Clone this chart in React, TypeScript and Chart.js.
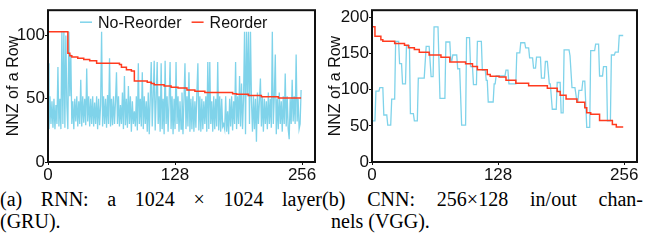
import React, { useEffect, useRef } from 'react';
import { Chart, registerables } from 'chart.js';

Chart.register(...registerables);

// ---------- data ----------
const xTickValues = [0, 128, 256];
const rnnYTicks = [0, 50, 100];
const vggYTicks = [0, 50, 100, 150, 200];
const seriesNames = ['No-Reorder', 'Reorder'];

// (a) RNN, no reorder: NNZ of each of 256 rows
const rnnNoReorder = [
  78, 26, 52, 30, 48, 27, 50, 26, 45, 30, 75, 28, 50, 26, 103, 30,
  103, 27, 100, 45, 26, 103, 52, 85, 30, 48, 26, 50, 32, 52, 28, 48,
  30, 65, 28, 52, 31, 50, 29, 74, 32, 52, 28, 50, 30, 52, 28, 47,
  30, 52, 26, 50, 29, 45, 103, 28, 52, 30, 50, 27, 53, 30, 82, 28,
  50, 29, 52, 30, 48, 71, 30, 52, 28, 45, 30, 55, 26, 68, 29, 50,
  27, 60, 30, 52, 24, 48, 30, 40, 28, 52, 25, 78, 30, 50, 28, 71,
  26, 52, 30, 48, 24, 55, 22, 50, 79, 28, 52, 80, 25, 50, 79, 30,
  52, 24, 78, 26, 50, 22, 80, 30, 52, 24, 48, 79, 26, 52, 22, 50,
  26, 79, 30, 52, 24, 48, 26, 55, 22, 50, 78, 26, 52, 28, 71, 24,
  50, 26, 52, 24, 48, 27, 55, 78, 25, 52, 24, 50, 26, 48, 30, 52,
  24, 79, 26, 79, 30, 48, 24, 52, 26, 50, 28, 79, 25, 52, 24, 50,
  28, 30, 26, 52, 24, 40, 22, 50, 28, 52, 25, 48, 30, 79, 26, 52,
  30, 68, 28, 62, 26, 50, 103, 22, 103, 52, 103, 30, 103, 48, 24, 52,
  26, 50, 16, 55, 30, 48, 66, 28, 52, 24, 50, 30, 48, 26, 55, 30,
  50, 27, 103, 30, 52, 85, 22, 50, 26, 55, 30, 48, 24, 52, 30, 70,
  28, 52, 26, 18, 50, 30, 65, 32, 52, 30, 85, 32, 50, 26, 30, 57,
];

// (a) RNN, reordered: step breakpoints (row index, NNZ)
const rnnReorderX = [0, 20, 22, 24, 30, 36, 42, 49, 72, 74, 79, 84, 87, 100, 104, 107, 117, 124, 131, 140, 148, 158, 186, 190, 202, 215, 232, 255];
const rnnReorderY = [103, 86, 84, 83, 82, 81, 80, 78, 77, 75, 73, 72, 64, 63, 62, 61, 60, 59, 58.5, 57, 56, 55, 54, 53.5, 52.5, 51.5, 50.5, 50.5];

// (b) CNN/VGG, no reorder: plateau start/end points
const vggNoReorderX = [
  0, 3, 4, 7, 8, 11, 12, 15, 16, 19, 20, 23, 24, 27, 28, 30, 31, 34, 35, 38,
  39, 42, 43, 46, 47, 53, 55, 58, 60, 62, 63, 67, 69, 74, 75, 79, 80, 81, 82, 86,
  87, 89, 91, 95, 96, 99, 100, 102, 103, 106, 107, 111, 112, 115, 116, 117, 118, 123, 124, 125,
  126, 135, 136, 138, 139, 146, 147, 150, 151, 155, 156, 159, 160, 163, 164, 166, 167, 171, 172, 175,
  176, 178, 180, 181, 183, 187, 188, 191, 192, 194, 195, 200, 201, 202, 203, 206, 208, 209, 210, 213,
  214, 216, 218, 221, 222, 226, 227, 230, 231, 234, 235, 238, 239, 242, 243, 246, 247, 250, 251, 255,
];
const vggNoReorderY = [
  57, 57, 98, 98, 103, 103, 65, 65, 51, 51, 87, 87, 167, 167, 136, 136, 108, 108, 161, 161,
  67, 67, 57, 57, 116, 116, 160, 160, 118, 118, 187, 187, 88, 88, 166, 166, 140, 140, 148, 148,
  129, 129, 51, 51, 172, 172, 132, 132, 107, 107, 167, 167, 127, 127, 113, 113, 83, 83, 108, 108,
  119, 119, 127, 127, 108, 108, 151, 151, 165, 165, 158, 158, 144, 144, 130, 130, 145, 145, 116, 116,
  139, 139, 108, 108, 73, 73, 110, 110, 68, 68, 155, 155, 147, 147, 103, 103, 84, 84, 99, 99,
  112, 112, 48, 48, 154, 154, 163, 163, 119, 119, 132, 132, 57, 57, 148, 148, 152, 152, 175, 175,
];

// (b) CNN/VGG, reordered: step breakpoints
const vggReorderX = [0, 3, 9, 11, 23, 33, 37, 43, 48, 58, 70, 79, 95, 102, 107, 117, 120, 129, 136, 146, 159, 178, 188, 191, 197, 208, 216, 218, 222, 231, 244, 248, 255];
const vggReorderY = [187, 174, 169, 167, 164, 161.5, 158, 155.5, 152, 148, 145, 138.5, 136, 132, 127.5, 121, 118.5, 117.5, 113, 109, 105.5, 102, 97.5, 92.5, 87, 82.5, 75, 68, 66, 57.5, 52, 48.5, 48.5];

// ---------- styles ----------
const CYAN = '#7fd3ea';
const RED = '#ff3b1f';
const SANS = '"Liberation Sans", Arial, sans-serif';
const SERIF = '"Liberation Serif", "Times New Roman", serif';

const boxPlugin = {
  id: 'plotBox',
  afterDraw(chart: any) {
    const { ctx, chartArea: a } = chart;
    ctx.save();
    ctx.strokeStyle = '#111';
    ctx.lineWidth = 2;
    ctx.strokeRect(a.left, a.top, a.right - a.left, a.bottom - a.top);
    ctx.restore();
  },
};

// horizontal legend drawn inside the plot area, near its top
const insideLegendPlugin = {
  id: 'insideLegend',
  afterDatasetsDraw(chart: any, _args: any, opts: any) {
    if (!opts || !opts.show) return;
    const { ctx, chartArea: a } = chart;
    ctx.save();
    ctx.font = `16px ${SANS}`;
    ctx.textBaseline = 'middle';
    ctx.textAlign = 'left';
    const y = a.top + 12;
    let x = a.left + opts.offsetX;
    chart.data.datasets.forEach((ds: any) => {
      ctx.strokeStyle = ds.borderColor;
      ctx.lineWidth = 1.5;
      ctx.beginPath();
      ctx.moveTo(x, y);
      ctx.lineTo(x + 12, y);
      ctx.stroke();
      x += 18;
      ctx.fillStyle = '#111';
      ctx.fillText(ds.label, x, y + 1);
      x += ctx.measureText(ds.label).width + 10;
    });
    ctx.restore();
  },
};

function makeConfig(p: {
  cyan: { x: number; y: number }[];
  red: { x: number; y: number }[];
  yMax: number;
  yTicks: number[];
  yWidth: number;
  rightPad: number;
  xHeight: number;
  legend: boolean;
}) {
  const tickFont = { family: SANS, size: 17 };
  return {
    type: 'line',
    data: {
      datasets: [
        {
          label: seriesNames[0],
          data: p.cyan,
          borderColor: CYAN,
          backgroundColor: CYAN,
          borderWidth: 1.3,
          pointRadius: 0,
          tension: 0,
          order: 1,
        },
        {
          label: seriesNames[1],
          data: p.red,
          borderColor: RED,
          backgroundColor: RED,
          borderWidth: 1.5,
          pointRadius: 0,
          stepped: true,
          order: 0,
        },
      ],
    },
    options: {
      responsive: false,
      animation: false,
      devicePixelRatio: 1,
      layout: { padding: { top: 3, right: p.rightPad, left: 0, bottom: 0 } },
      plugins: {
        tooltip: { enabled: false },
        legend: { display: false },
        insideLegend: { show: p.legend, offsetX: 32 },
      },
      scales: {
        x: {
          type: 'linear',
          min: 0,
          max: 269,
          afterBuildTicks: (s: any) => {
            s.ticks = xTickValues.map((v) => ({ value: v }));
          },
          afterFit: (s: any) => {
            s.height = p.xHeight;
          },
          ticks: { font: tickFont, color: '#111', padding: 0, autoSkip: false, maxRotation: 0 },
          grid: { drawOnChartArea: false, drawTicks: true, tickLength: 3, color: '#111' },
          border: { display: false },
        },
        y: {
          type: 'linear',
          min: 0,
          max: p.yMax,
          afterBuildTicks: (s: any) => {
            s.ticks = p.yTicks.map((v) => ({ value: v }));
          },
          afterFit: (s: any) => {
            s.width = p.yWidth;
          },
          ticks: { font: tickFont, color: '#111', padding: 0, autoSkip: false },
          grid: { drawOnChartArea: false, drawTicks: true, tickLength: 3, color: '#111' },
          border: { display: false },
          title: {
            display: true,
            text: 'NNZ of a Row',
            color: '#111',
            font: { family: SANS, size: 16 },
            padding: { top: 4, bottom: 0 },
          },
        },
      },
    },
    plugins: [insideLegendPlugin, boxPlugin],
  };
}

function ChartCanvas({ config, width, height, left }: any) {
  const ref = useRef<HTMLCanvasElement>(null);
  useEffect(() => {
    const chart = new Chart(ref.current as HTMLCanvasElement, config as any);
    return () => chart.destroy();
  }, []);
  return (
    <canvas
      ref={ref}
      width={width}
      height={height}
      style={{ position: 'absolute', left, top: 0, width, height }}
    />
  );
}

const CANVAS_H = 182;

export default function App() {
  const rnnCyan = rnnNoReorder.map((y, i) => ({ x: i, y }));
  const rnnRed = rnnReorderX.map((x, i) => ({ x, y: rnnReorderY[i] }));
  const vggCyan = vggNoReorderX.map((x, i) => ({ x, y: vggNoReorderY[i] }));
  const vggRed = vggReorderX.map((x, i) => ({ x, y: vggReorderY[i] }));

  const leftCfg = makeConfig({
    cyan: rnnCyan,
    red: rnnRed,
    yMax: 120,
    yTicks: rnnYTicks,
    yWidth: 48,
    rightPad: 7,
    xHeight: CANVAS_H - 162,
    legend: true,
  });
  const rightCfg = makeConfig({
    cyan: vggCyan,
    red: vggRed,
    yMax: 210,
    yTicks: vggYTicks,
    yWidth: 50,
    rightPad: 8,
    xHeight: CANVAS_H - 162,
    legend: false,
  });

  const capStyle: React.CSSProperties = {
    position: 'absolute',
    font: `20px ${SERIF}`,
    lineHeight: '22px',
    color: '#000',
    whiteSpace: 'normal',
  };

  return (
    <div style={{ position: 'absolute', left: 0, top: 0, width: 645, height: 240, background: '#fff', overflow: 'hidden' }}>
      <ChartCanvas config={leftCfg} width={322} height={CANVAS_H} left={0} />
      <ChartCanvas config={rightCfg} width={323} height={CANVAS_H} left={322} />
      <div style={{ ...capStyle, left: 0, top: 188, width: 322 }}>
        <div style={{ textAlign: 'justify', textAlignLast: 'justify' }}>(a) RNN: a 1024 × 1024 layer</div>
        <div>(GRU).</div>
      </div>
      <div style={{ ...capStyle, left: 322, top: 188, width: 321 }}>
        <div style={{ textAlign: 'justify', textAlignLast: 'justify' }}>(b) CNN: 256×128 in/out chan-</div>
        <div style={{ paddingLeft: 9 }}>nels (VGG).</div>
      </div>
    </div>
  );
}
